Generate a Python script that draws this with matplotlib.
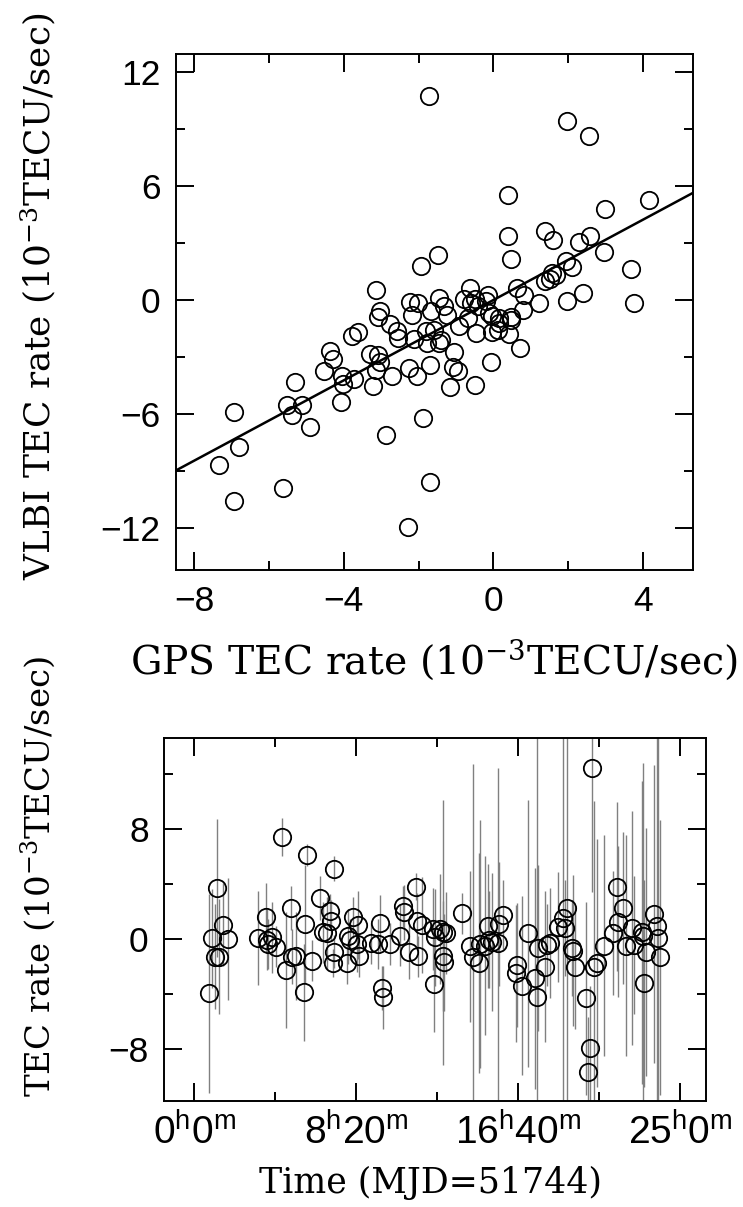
import numpy as np
import matplotlib
matplotlib.use("Agg")
import matplotlib.pyplot as plt
from matplotlib.ticker import MultipleLocator, FixedLocator, FixedFormatter

plt.rcParams['font.family'] = 'Liberation Sans'
plt.rcParams['mathtext.fontset'] = 'custom'
plt.rcParams['mathtext.rm'] = 'Liberation Sans'
plt.rcParams['mathtext.it'] = 'Liberation Sans:italic'
plt.rcParams['axes.unicode_minus'] = True

# --- top panel: GPS vs VLBI TEC rate (1e-3 TECU/s) ---
gps_rate = [-1.72, 1.98, 2.56, 0.40, 4.17, 2.98, 0.40, 1.38, 1.60, 2.30,
            2.58, 0.46, 2.97, 3.69, 1.95, 2.11, 1.57, 1.38, 1.52, 1.67,
            -1.93, -1.48, -3.15, 2.40, 3.75, 1.97, 1.23, 0.78, 0.62, 0.82,
            -2.24, -2.02, -1.45, -0.63, -0.78, -0.49, -0.15, -0.20, -0.60, -0.42,
            -1.32, -3.02, -1.68, -2.18, -0.11, 0.16, 0.47,
            -3.09, -2.77, -2.57, -2.54, -2.12, -1.79, -1.59, -1.78, -1.46, -1.41,
            -0.93, -1.25, -0.69, -0.05, -0.46, -0.03, 0.15, 0.12, 0.48, 0.43,
            0.71, -4.37, -4.29, -3.77, -3.61, -3.31, -3.09, -3.04, -3.15, -3.23,
            -2.71, -2.26, -2.04, -1.70, -1.05, -1.08, -0.95, -1.17, -0.50, -0.06,
            -4.54, -4.06, -4.03, -3.74, -5.30, -6.95, -5.51, -5.39, -5.11, -4.90,
            -4.08, -2.87, -1.89, -6.80, -7.33, -6.94, -5.63, -1.70, -2.29]
vlbi_rate = [10.70, 9.39, 8.64, 5.50, 5.27, 4.77, 3.35, 3.65, 3.18, 3.04,
             3.35, 2.18, 2.53, 1.64, 2.05, 1.76, 1.42, 1.00, 1.08, 1.33,
             1.79, 2.37, 0.55, 0.38, -0.16, -0.07, -0.15, -0.50, 0.63, 0.25,
             -0.10, -0.16, 0.13, 0.63, 0.03, 0.06, 0.25, -0.07, -0.16, -0.33,
             -0.30, -0.57, -0.58, -0.81, -0.70, -0.95, -0.90,
             -0.87, -1.26, -1.64, -1.99, -2.03, -1.64, -1.58, -2.24, -2.27, -2.08,
             -1.38, -0.80, -0.93, -0.84, -1.75, -1.70, -1.19, -1.55, -1.05, -1.80,
             -2.52, -2.69, -3.11, -1.90, -1.66, -2.82, -2.87, -3.26, -3.67, -4.50,
             -3.97, -3.57, -4.00, -3.44, -2.74, -3.52, -3.75, -4.57, -4.45, -3.27,
             -3.75, -3.97, -4.40, -4.13, -4.29, -5.89, -5.54, -6.06, -5.54, -6.67,
             -5.36, -7.08, -6.20, -7.72, -8.68, -10.57, -9.87, -9.58, -11.94]
fit_slope = 1.055
fit_icept = 0.0

# --- bottom panel: TEC rate vs time (hours of MJD 51744) ---
time_h = [0.77, 0.89, 1.06, 1.18, 1.29, 1.49, 1.71, 3.29, 3.69, 3.75,
          3.80, 3.98, 4.20, 4.49, 4.71, 4.95, 5.00, 5.23, 5.64, 5.69,
          5.78, 6.07, 6.46, 6.63, 6.84, 6.98, 7.03, 7.18, 7.18, 7.11,
          7.87, 7.92, 8.00, 8.18, 8.43, 8.38, 8.49, 9.07, 9.46, 9.55,
          9.63, 9.69, 10.06, 10.58, 10.75, 10.80, 11.06, 11.40, 11.43, 11.52,
          11.69, 12.33, 12.29, 12.38, 12.63, 12.81, 12.95, 12.81, 12.84, 13.78,
          14.17, 14.34, 14.66, 14.69, 14.95, 15.12, 15.17, 15.29, 15.60, 15.69,
          15.89, 16.61, 16.54, 16.87, 17.14, 17.52, 17.61, 17.69, 18.04, 18.12,
          18.29, 18.69, 18.98, 19.15, 19.06, 19.41, 19.49, 19.58, 20.13, 20.35,
          20.26, 20.44, 20.55, 20.69, 21.09, 21.55, 21.73, 21.81, 22.07, 22.21,
          22.49, 22.61, 23.01, 23.09, 23.14, 23.23, 23.64, 23.78, 23.87, 23.95]
tec_rate = [-3.95, 0.05, -1.28, 3.71, -1.28, 1.04, 0.00, 0.07, 1.58, -0.05,
            -0.36, 0.12, -0.56, 7.39, -2.23, 2.25, -1.28, -1.21, -3.88, 1.09,
            6.11, -1.58, 2.98, 0.48, 0.44, 2.06, 1.33, 5.09, -0.92, -1.75,
            -1.77, 0.19, -0.05, 1.58, 1.02, -0.36, -1.26, -0.32, -0.36, 1.16,
            -3.56, -4.24, -0.36, 0.24, 2.38, 1.94, -0.92, 3.81, 1.33, -1.26,
            1.02, -3.27, 0.73, 0.12, 0.73, 0.48, 0.44, -1.21, -1.70, 1.87,
            -0.53, -1.33, -1.75, -0.36, -0.48, 0.92, -0.05, -0.24, -0.29, 1.09,
            1.75, -1.89, -2.50, -3.39, 0.41, -2.86, -4.19, -0.65, -2.01, -0.44,
            -0.29, 0.85, 1.50, 2.23, 0.78, -0.65, -0.85, -2.06, -4.29, -7.88,
            -9.65, 12.44, -2.01, -1.77, -0.48, 0.44, 3.81, 1.26, 2.25, -0.48,
            0.78, -0.44, 0.48, 0.24, -3.22, -0.92, 1.82, 0.92, 0.07, -1.33]
tec_err = [7.2, 3.6, 3.8, 5.0, 4.2, 3.0, 4.4, 3.4, 2.5, 2.2,
           1.8, 2.6, 1.5, 1.4, 4.2, 1.6, 2.0, 3.2, 3.5, 4.3,
           0.8, 1.5, 1.6, 2.2, 2.6, 1.2, 1.5, 0.9, 1.2, 1.0,
           1.5, 2.0, 1.5, 1.5, 2.5, 2.0, 1.5, 1.5, 1.8, 2.0,
           1.6, 2.3, 1.5, 2.2, 1.5, 2.0, 2.0, 1.0, 2.0, 1.5,
           3.5, 3.5, 3.0, 3.5, 4.0, 9.6, 3.0, 4.0, 3.5, 1.5,
           5.5, 14.0, 8.0, 9.0, 6.5, 4.5, 3.5, 5.0, 12.7, 4.5,
           2.5, 4.5, 5.0, 6.5, 9.7, 8.0, 22.0, 6.0, 5.5, 3.0,
           4.0, 4.0, 20.0, 25.0, 3.5, 3.5, 5.5, 4.5, 7.0, 4.5,
           4.0, 9.0, 12.0, 9.0, 8.0, 4.5, 6.1, 5.5, 5.5, 8.0,
           8.5, 5.0, 11.0, 12.5, 7.5, 9.0, 10.8, 30.0, 30.0, 10.0]

xtick_hours = [0, 25 / 3, 50 / 3, 25]
xtick_labels = [r'$0^{\rm h}0^{\rm m}$', r'$8^{\rm h}20^{\rm m}$',
                r'$16^{\rm h}40^{\rm m}$', r'$25^{\rm h}0^{\rm m}$']
xminor_hours = [25 / 6, 12.5, 125 / 6]

W, H = 743, 1207
fig = plt.figure(figsize=(W / 100, H / 100), dpi=100)


def style(ax, size):
    for s in ax.spines.values():
        s.set_linewidth(1.4)
    ax.tick_params(which='both', direction='in', top=True, right=True,
                   width=1.4, labelsize=size, pad=11)
    ax.tick_params(which='major', length=13)
    ax.tick_params(which='minor', length=6.7)


# top panel
ax1 = fig.add_axes([176 / W, 1 - 570 / H, (693 - 176) / W, (570 - 54) / H])
ax1.plot(gps_rate, vlbi_rate, 'o', ms=12.5, mfc='none', mec='black', mew=1.3)
ax1.axline((0, fit_icept), slope=fit_slope, color='black', lw=1.8)
ax1.set_xlim(-8.49, 5.34)
ax1.set_ylim(-14.19, 12.93)
ax1.xaxis.set_major_locator(MultipleLocator(4))
ax1.xaxis.set_minor_locator(MultipleLocator(2))
ax1.yaxis.set_major_locator(MultipleLocator(6))
ax1.yaxis.set_minor_locator(MultipleLocator(3))
style(ax1, 25.5)

# bottom panel
ax2 = fig.add_axes([164 / W, 1 - 1101 / H, (706 - 164) / W, (1101 - 738) / H])
ax2.errorbar(time_h, tec_rate, yerr=tec_err, fmt='none', ecolor='#808080',
             elinewidth=1.0, capsize=0, zorder=1)
ax2.plot(time_h, tec_rate, 'o', ms=12.5, mfc='none', mec='black', mew=1.3, zorder=2)
ax2.set_xlim(-1.56, 26.32)
ax2.set_ylim(-11.76, 14.59)
ax2.xaxis.set_major_locator(FixedLocator(xtick_hours))
ax2.xaxis.set_major_formatter(FixedFormatter(xtick_labels))
ax2.xaxis.set_minor_locator(FixedLocator(xminor_hours))
ax2.yaxis.set_major_locator(MultipleLocator(8))
ax2.yaxis.set_minor_locator(MultipleLocator(4))
style(ax2, 25.5)
ax2.tick_params(axis='x', labelsize=28, pad=9)

serif = dict(family='DejaVu Serif', math_fontfamily='dejavuserif')
fig.text(434 / W, 1 - 660 / H, r'GPS TEC rate (10$^{-3}$TECU/sec)',
         ha='center', va='center', fontsize=28.4, **serif)
fig.text(38 / W, 1 - 296 / H, r'VLBI TEC rate (10$^{-3}$TECU/sec)',
         ha='center', va='center', rotation=90, fontsize=25.8, **serif)
fig.text(38 / W, 1 - 1097 / H, r'TEC rate (10$^{-3}$TECU/sec)',
         ha='center', va='bottom', rotation=90, fontsize=24.5, **serif)
fig.text(430 / W, 1 - 1183 / H, 'Time (MJD=51744)',
         ha='center', va='center', fontsize=25, **serif)

fig.savefig('out.png', dpi=100)
